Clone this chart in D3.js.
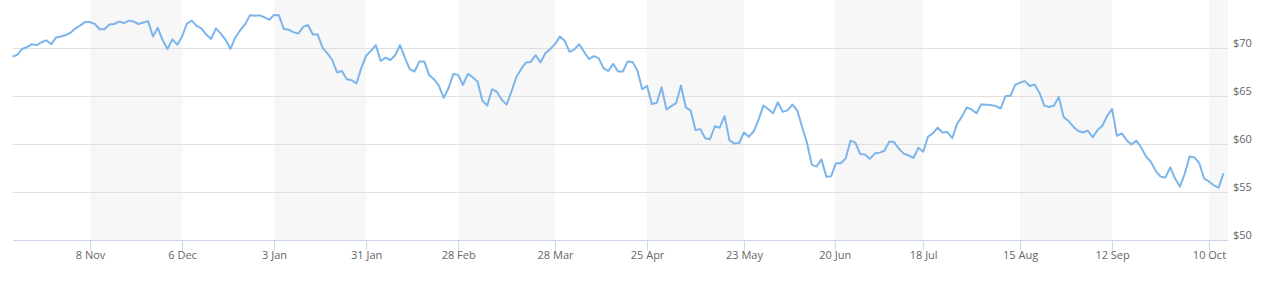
<!DOCTYPE html>
<html>
<head>
<meta charset="utf-8">
<script src="https://cdn.jsdelivr.net/npm/d3@7"></script>
<style>
  body { margin: 0; background: #fff; }
  text { font-family: "Open Sans", "Lucida Grande", Arial, sans-serif; font-size: 11px; fill: #666; }
</style>
</head>
<body>
<div id="chart"></div>
<script>
// trading days (US market), Oct 2021 - Oct 2022
const firstDay = "2021-10-15"
const lastDay = "2022-10-13"
const holidays = ["2021-11-25", "2021-12-24", "2022-01-17", "2022-02-21", "2022-04-15",
                  "2022-05-30", "2022-06-20", "2022-07-04", "2022-09-05"]

// closing price for each trading day
const prices = [
  69.1, 69.3, 69.9, 70.1, 70.4, 70.3, 70.6, 70.8, 70.4, 71.1,
  71.2, 71.35, 71.6, 72.05, 72.35, 72.7, 72.7, 72.5, 71.95, 71.95,
  72.45, 72.5, 72.75, 72.6, 72.85, 72.75, 72.5, 72.65, 72.8, 71.2,
  72.1, 70.8, 69.9, 70.9, 70.35, 71.2, 72.55, 72.85, 72.3, 72.05,
  71.4, 70.95, 72.05, 71.5, 70.85, 69.9, 71.1, 71.85, 72.45, 73.4,
  73.35, 73.4, 73.2, 72.95, 73.45, 73.4, 72.0, 71.9, 71.65, 71.5,
  72.2, 72.4, 71.4, 71.4, 70.05, 69.45, 68.75, 67.45, 67.6, 66.75,
  66.65, 66.3, 67.9, 69.2, 69.7, 70.3, 68.65, 69.0, 68.75, 69.25,
  70.3, 69.0, 67.8, 67.55, 68.6, 68.6, 67.2, 66.75, 66.1, 64.8,
  65.8, 67.3, 67.2, 66.15, 67.3, 66.95, 66.5, 64.5, 64.0, 65.7,
  65.45, 64.6, 64.1, 65.45, 66.95, 67.8, 68.5, 68.55, 69.25, 68.5,
  69.45, 69.9, 70.4, 71.2, 70.75, 69.6, 69.85, 70.4, 69.6, 68.85,
  69.15, 68.95, 67.9, 67.6, 68.35, 67.55, 67.55, 68.6, 68.55, 67.65,
  65.7, 66.05, 64.15, 64.3, 65.9, 63.6, 63.95, 64.25, 66.1, 63.8,
  63.5, 61.45, 61.55, 60.6, 60.5, 61.85, 61.7, 62.9, 60.4, 60.05,
  60.1, 61.2, 60.75, 61.3, 62.5, 64.0, 63.65, 63.2, 64.35, 63.35,
  63.5, 64.1, 63.5, 61.8, 60.15, 57.85, 57.65, 58.4, 56.6, 56.65,
  58.0, 58.0, 58.5, 60.35, 60.15, 58.95, 58.9, 58.45, 59.0, 59.1,
  59.3, 60.25, 60.2, 59.5, 59.0, 58.8, 58.55, 59.6, 59.2, 60.75,
  61.1, 61.7, 61.2, 61.25, 60.6, 62.1, 62.85, 63.8, 63.6, 63.2,
  64.15, 64.1, 64.05, 63.95, 63.7, 65.0, 65.0, 66.15, 66.4, 66.55,
  66.05, 66.2, 65.35, 64.0, 63.85, 64.0, 64.9, 62.8, 62.4, 61.8,
  61.35, 61.2, 61.4, 60.7, 61.45, 61.9, 62.95, 63.65, 60.85, 61.1,
  60.4, 59.95, 60.35, 59.65, 58.7, 58.15, 57.2, 56.6, 56.5, 57.55,
  56.4, 55.55, 56.9, 58.7, 58.6, 58.0, 56.4, 56.1, 55.7, 55.45,
  56.95
]

// axis ticks
const xTickDates = ["2021-11-08", "2021-12-06", "2022-01-03", "2022-01-31", "2022-02-28",
                    "2022-03-28", "2022-04-25", "2022-05-23", "2022-06-20", "2022-07-18",
                    "2022-08-15", "2022-09-12", "2022-10-10"]
const yTicks = [50, 55, 60, 65, 70]

const width = 1264
const height = 281
const plot = { left: 13, right: 1228, top: 0, bottom: 240 }

const parse = d3.utcParse("%Y-%m-%d")
const fmt = d3.utcFormat("%-d %b")

// build the trading day list (weekdays without holidays)
const closed = new Set(holidays)
const days = d3.utcDay.range(parse(firstDay), d3.utcDay.offset(parse(lastDay), 1))
    .filter(d => d.getUTCDay() !== 0 && d.getUTCDay() !== 6 && !closed.has(d3.utcFormat("%Y-%m-%d")(d)))
const times = days.map(d => +d)
const data = days.map((d, i) => ({ date: d, i: i, price: prices[i] }))

// ordinal position of any date (interpolated when the market is closed)
function ordinal(date) {
    const t = +date
    const i = d3.bisectLeft(times, t)
    if (times[i] === t) return i
    return i - 1 + (t - times[i - 1]) / (times[i] - times[i - 1])
}

const x = d3.scaleLinear().domain([0, data.length - 1]).range([plot.left - 0.5, plot.right - 4.5])
const y = d3.scaleLinear().domain([50, 75]).range([plot.bottom, plot.top])

const svg = d3.select("#chart").append("svg").attr("width", width).attr("height", height)

// alternating bands between ticks
const tickPos = xTickDates.map(d => ordinal(parse(d)))
const bandEdges = tickPos.map(p => x(p)).concat([plot.right])
const bands = []
for (let k = 0; k < bandEdges.length - 1; k += 2) bands.push([bandEdges[k], bandEdges[k + 1]])
svg.append("g").selectAll("rect").data(bands).join("rect")
    .attr("x", d => d[0])
    .attr("y", plot.top)
    .attr("width", d => d[1] - d[0])
    .attr("height", plot.bottom - plot.top)
    .attr("fill", "#f7f7f7")

// grid lines
svg.append("g").selectAll("line").data(yTicks).join("line")
    .attr("x1", plot.left).attr("x2", plot.right)
    .attr("y1", d => Math.round(y(d)) + 0.5).attr("y2", d => Math.round(y(d)) + 0.5)
    .attr("stroke", "#e0e0e0")

// price line
svg.append("path").datum(data)
    .attr("fill", "none")
    .attr("stroke", "#7cb5ec")
    .attr("stroke-width", 2)
    .attr("stroke-linejoin", "round")
    .attr("d", d3.line().x(d => x(d.i)).y(d => y(d.price)))

// x axis
const xAxisGroup = svg.append("g").attr("transform", `translate(0,${plot.bottom + 0.5})`)
xAxisGroup.call(d3.axisBottom(x).tickValues(tickPos).tickFormat((d, k) => fmt(parse(xTickDates[k])))
    .tickSize(10).tickPadding(1))
xAxisGroup.select(".domain").remove()
xAxisGroup.selectAll(".tick line").attr("stroke", "#ccd6eb")
xAxisGroup.selectAll("text").attr("fill", "#666").attr("font-family", null).attr("font-size", null)
xAxisGroup.append("line")
    .attr("x1", plot.left).attr("x2", plot.right)
    .attr("stroke", "#ccd6eb")

// y axis on the right
const yAxisGroup = svg.append("g").attr("transform", `translate(${plot.right + 5},0)`)
yAxisGroup.call(d3.axisRight(y).tickValues(yTicks).tickFormat(d => "$" + d).tickSize(0).tickPadding(0))
yAxisGroup.select(".domain").remove()
yAxisGroup.selectAll("text").attr("dy", -2).attr("fill", "#666").attr("font-family", null).attr("font-size", null)
</script>
</body>
</html>
